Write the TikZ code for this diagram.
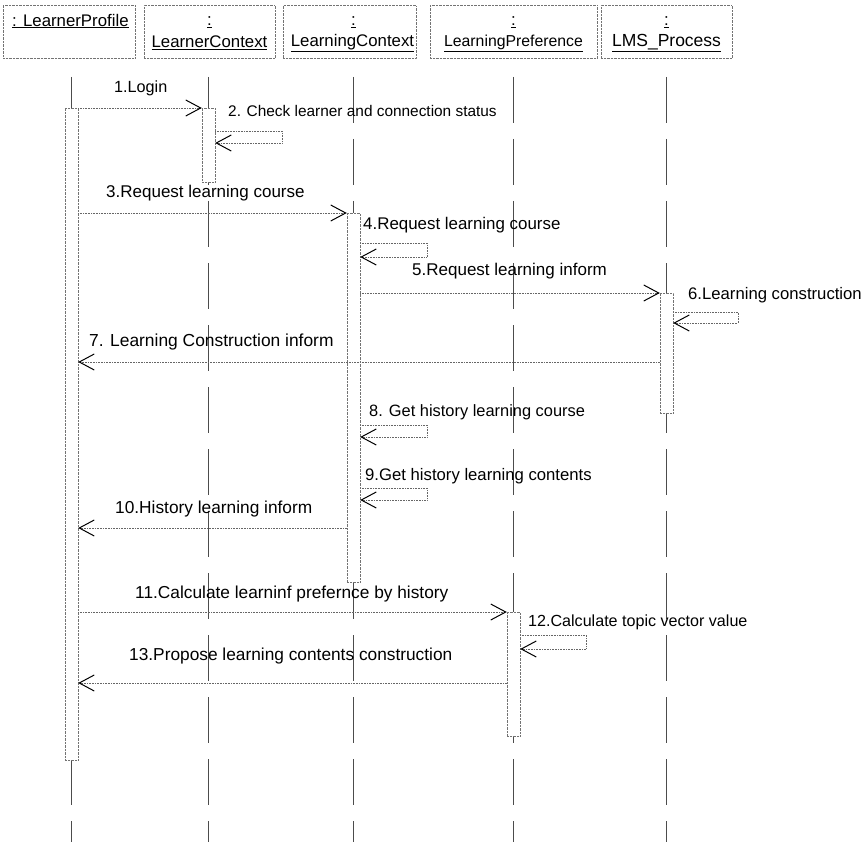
\documentclass[tikz,border=0pt]{standalone}
\usepackage{fontspec}
\setmainfont{Liberation Sans}
\usetikzlibrary{arrows.meta}
\newcommand\mysz[1]{\fontsize{#1}{#1}\selectfont}
\begin{document}
\begin{tikzpicture}[x=1pt,y=-1pt,
  hdr/.style={draw=black!55, densely dotted, minimum height=53pt, inner sep=0pt},
  life/.style={draw=black!70, line width=0.7pt, dash pattern=on 46pt off 16pt},
  act/.style={draw=black!55, densely dotted, fill=white, minimum width=13pt, inner sep=0pt},
  msg/.style={draw=black!60, densely dotted, line width=0.6pt, -{Straight Barb[length=15pt,width=16pt,line width=1pt,color=black]}},
  selfmsg/.style={msg},
  lbl/.style={anchor=west, inner sep=0pt, font=\mysz{17}},
  hl/.style={inner sep=0pt, font=\mysz{16.8}},
]
\useasboundingbox (0,0) rectangle (866,842);

% header boxes
\node[hdr, minimum width=132pt] (hLP) at (69,31.5) {};
\node[hdr, minimum width=131pt] (hLC) at (209.5,32) {};
\node[hdr, minimum width=133pt] (hLG) at (349.5,32) {};
\node[hdr, minimum width=167pt] (hPR) at (513.5,32) {};
\node[hdr, minimum width=131pt] (hLM) at (666.5,32) {};

% header texts
\node[hl, anchor=west] (tLP) at (12,21) {\underline{: LearnerProfile}};
\node[hl] (cLC) at (209.5,22) {\underline{:}};
\node[hl] (tLC) at (209.5,43) {\underline{LearnerContext}};
\node[hl] (cLG) at (353.5,22) {\underline{:}};
\node[hl] (tLG) at (352.5,43) {\underline{LearningContext}};
\node[hl] (cPR) at (513.5,22) {\underline{:}};
\node[hl, font=\mysz{15.8}] (tPR) at (513.5,43) {\underline{LearningPreference}};
\node[hl] (cLM) at (666.5,22) {\underline{:}};
\node[hl, font=\mysz{17.5}] (tLM) at (666.5,43) {\underline{LMS\_Process}};

% lifelines
\coordinate (lLPa) at (71.5,77);  \coordinate (lLPb) at (71.5,842);
\coordinate (lLCa) at (208.5,77); \coordinate (lLCb) at (208.5,842);
\coordinate (lLGa) at (353.5,77); \coordinate (lLGb) at (353.5,842);
\coordinate (lPRa) at (513.5,77); \coordinate (lPRb) at (513.5,842);
\coordinate (lLMa) at (666.5,77); \coordinate (lLMb) at (666.5,842);
\draw[life] (lLPa) -- (lLPb);
\draw[life] (lLCa) -- (lLCb);
\draw[life] (lLGa) -- (lLGb);
\draw[life] (lPRa) -- (lPRb);
\draw[life] (lLMa) -- (lLMb);

% activation bars
\node[act, minimum height=652pt] (aLP) at (71.5,434) {};
\node[act, minimum height=74pt]  (aLC) at (208.5,145) {};
\node[act, minimum height=369pt] (aLG) at (353.5,397.5) {};
\node[act, minimum height=120pt] (aLM) at (666.5,353) {};
\node[act, minimum height=124pt] (aPR) at (513.5,674) {};

% messages
\draw[msg] (aLP.east |- 0,108) -- (aLC.west |- 0,108);
\draw[selfmsg] (aLC.east |- 0,131) -- (282,131) -- (282,143) -- (aLC.east |- 0,143);
\draw[msg] (aLP.east |- 0,213) -- (aLG.west |- 0,213);
\draw[selfmsg] (aLG.east |- 0,243) -- (427,243) -- (427,257) -- (aLG.east |- 0,257);
\draw[msg] (aLG.east |- 0,293) -- (aLM.west |- 0,293);
\draw[selfmsg] (aLM.east |- 0,312) -- (738,312) -- (738,323) -- (aLM.east |- 0,323);
\draw[msg] (aLM.west |- 0,362) -- (aLP.east |- 0,362);
\draw[selfmsg] (aLG.east |- 0,425) -- (427,425) -- (427,437) -- (aLG.east |- 0,437);
\draw[selfmsg] (aLG.east |- 0,488) -- (427,488) -- (427,500) -- (aLG.east |- 0,500);
\draw[msg] (aLG.west |- 0,528) -- (aLP.east |- 0,528);
\draw[msg] (aLP.east |- 0,612) -- (aPR.west |- 0,612);
\draw[selfmsg] (aPR.east |- 0,635) -- (586,635) -- (586,649) -- (aPR.east |- 0,649);
\draw[msg] (aPR.west |- 0,683) -- (aLP.east |- 0,683);

% labels
\node[lbl, font=\mysz{16.2}] (m1)  at (114,88)  {1.Login};
\node[lbl, font=\mysz{15.4}] (m2)  at (228,111) {2. Check learner and connection status};
\node[lbl] (m3)  at (106,193) {3.Request learning course};
\node[lbl, font=\mysz{16.9}] (m4)  at (363,225) {4.Request learning course};
\node[lbl] (m5)  at (412,271) {5.Request learning inform};
\node[lbl, font=\mysz{16.7}] (m6)  at (688,295) {6.Learning construction};
\node[lbl, font=\mysz{17.4}] (m7)  at (89,342)  {7. Learning Construction inform};
\node[lbl, font=\mysz{16.4}] (m8)  at (369,412) {8. Get history learning course};
\node[lbl, font=\mysz{16.7}] (m9)  at (365,476) {9.Get history learning contents};
\node[lbl, font=\mysz{17.3}] (m10) at (115,509) {10.History learning inform};
\node[lbl, font=\mysz{17.3}] (m11) at (135,594) {11.Calculate learninf prefernce by history};
\node[lbl, font=\mysz{16.1}] (m12) at (528,622) {12.Calculate topic vector value};
\node[lbl, font=\mysz{17.3}] (m13) at (129,656) {13.Propose learning contents construction};
\end{tikzpicture}
\end{document}
